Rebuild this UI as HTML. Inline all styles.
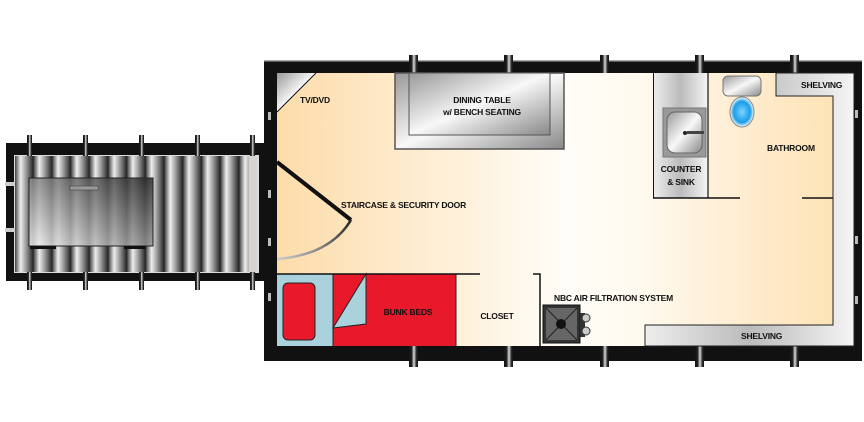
<!DOCTYPE html>
<html><head><meta charset="utf-8"><style>
html,body{margin:0;padding:0;background:#fff;}
svg{display:block;}
text{font-family:"Liberation Sans",sans-serif;font-weight:bold;font-size:8.5px;fill:#111;letter-spacing:-0.2px;}
</style></head><body>
<svg width="864" height="422" viewBox="0 0 864 422" xmlns="http://www.w3.org/2000/svg">
<defs>
<linearGradient id="slat" x1="0" x2="1" y1="0" y2="0">
<stop offset="0" stop-color="#444"/><stop offset="0.3" stop-color="#eee"/><stop offset="0.6" stop-color="#999"/><stop offset="1" stop-color="#1e1e1e"/>
</linearGradient>
<pattern id="slats" x="15" y="0" width="18.7" height="10" patternUnits="userSpaceOnUse">
<rect width="18.7" height="10" fill="url(#slat)"/>
</pattern>
<linearGradient id="box" x1="0" y1="1" x2="1" y2="0">
<stop offset="0" stop-color="#f0f0f0" stop-opacity="0.85"/><stop offset="1" stop-color="#2a2a2a" stop-opacity="0.85"/>
</linearGradient>
<linearGradient id="floor" x1="0" x2="1" y1="0" y2="0">
<stop offset="0" stop-color="#fddcaa"/><stop offset="0.5" stop-color="#fffdf8"/><stop offset="0.62" stop-color="#fffaf0"/><stop offset="1" stop-color="#fde0b0"/>
</linearGradient>
<linearGradient id="metal" x1="0" y1="0" x2="1" y2="1">
<stop offset="0" stop-color="#999"/><stop offset="0.5" stop-color="#f8f8f8"/><stop offset="1" stop-color="#888"/>
</linearGradient>
<linearGradient id="metalv" x1="0" y1="0" x2="1" y2="0">
<stop offset="0" stop-color="#eee"/><stop offset="0.5" stop-color="#bbb"/><stop offset="1" stop-color="#f5f5f5"/>
</linearGradient>
<linearGradient id="post" x1="0" x2="1">
<stop offset="0" stop-color="#111"/><stop offset="0.3" stop-color="#222"/><stop offset="0.55" stop-color="#ddd"/><stop offset="0.8" stop-color="#333"/><stop offset="1" stop-color="#111"/>
</linearGradient>
<linearGradient id="arc" x1="0" x2="1" y1="1" y2="0">
<stop offset="0" stop-color="#ccc"/><stop offset="1" stop-color="#222"/>
</linearGradient>
<radialGradient id="bowl"><stop offset="0" stop-color="#7fd3ff"/><stop offset="0.7" stop-color="#1a9ee8"/><stop offset="1" stop-color="#fff"/></radialGradient>
</defs>

<!-- trailer -->
<g>
<rect x="6" y="143" width="258" height="138" fill="#111"/>
<rect x="14" y="155" width="245" height="118" fill="#ddd"/>
<rect x="15" y="156" width="234" height="116" fill="url(#slats)"/>
<rect x="249" y="156" width="9" height="116" fill="#d8d4d0"/>
<rect x="5" y="182" width="10" height="4" fill="#ccc"/><rect x="5" y="228" width="10" height="4" fill="#ccc"/>
<rect x="29" y="178" width="124" height="68" fill="url(#box)" stroke="#222" stroke-width="1"/>
<rect x="70" y="186" width="28" height="4" fill="#999" stroke="#444" stroke-width="0.6"/>
<rect x="30" y="246" width="26" height="3" fill="#111"/><rect x="124" y="246" width="22" height="3" fill="#111"/>
<g fill="url(#post)">
<rect x="27" y="135" width="5" height="21"/><rect x="83" y="135" width="5" height="21"/><rect x="139" y="135" width="5" height="21"/><rect x="195" y="135" width="5" height="21"/><rect x="250" y="135" width="5" height="21"/>
<rect x="27" y="272" width="5" height="18"/><rect x="83" y="272" width="5" height="18"/><rect x="139" y="272" width="5" height="18"/><rect x="195" y="272" width="5" height="18"/><rect x="250" y="272" width="5" height="18"/>
</g>
</g>

<rect x="264" y="61" width="598" height="300" fill="#111"/>
<rect x="264" y="60" width="598" height="1.5" fill="#aaa"/>
<g fill="url(#post)">
<rect x="409" y="55" width="9" height="18"/><rect x="504" y="55" width="9" height="18"/><rect x="600" y="55" width="9" height="18"/><rect x="695" y="55" width="9" height="18"/><rect x="790" y="55" width="9" height="18"/>
<rect x="409" y="346" width="9" height="21"/><rect x="504" y="346" width="9" height="21"/><rect x="600" y="346" width="9" height="21"/><rect x="695" y="346" width="9" height="21"/><rect x="790" y="346" width="9" height="21"/>
</g>
<g fill="#bbb"><rect x="268" y="112" width="3" height="8"/><rect x="268" y="190" width="3" height="8"/><rect x="268" y="238" width="3" height="8"/><rect x="268" y="293" width="3" height="8"/><rect x="855" y="110" width="3" height="8"/><rect x="855" y="236" width="3" height="8"/><rect x="855" y="296" width="3" height="8"/></g>
<rect x="277" y="73" width="577" height="273" fill="url(#floor)"/>

<!-- TV corner -->
<polygon points="277,73 316,73 277,112" fill="url(#metal)"/>
<line x1="316" y1="73" x2="277" y2="112" stroke="#111" stroke-width="1"/>
<text x="300" y="103">TV/DVD</text>

<!-- dining -->
<rect x="395" y="73" width="169" height="76" fill="url(#metal)" stroke="#555" stroke-width="1.5"/>
<rect x="409" y="73" width="141" height="62" fill="url(#metal)" stroke="#555" stroke-width="1"/>
<text x="482" y="103" text-anchor="middle">DINING TABLE</text>
<text x="482" y="115" text-anchor="middle">w/ BENCH SEATING</text>

<!-- door -->
<line x1="277" y1="162" x2="351" y2="220" stroke="#111" stroke-width="4"/>
<path d="M351,220 Q330,255 277,259" fill="none" stroke="url(#arc)" stroke-width="2.5"/>
<text x="341" y="208">STAIRCASE &amp; SECURITY DOOR</text>

<!-- bunk -->
<rect x="277" y="274" width="56" height="72" fill="#a9d2dc"/>
<rect x="283" y="283" width="32" height="57" rx="5" fill="#e8192a" stroke="#222" stroke-width="1"/>
<rect x="333" y="274" width="123" height="72" fill="#e8192a"/>
<polygon points="366,274 333,328 366,324" fill="#a9d2dc" stroke="#222" stroke-width="1"/>
<line x1="333" y1="274" x2="333" y2="346" stroke="#222" stroke-width="1"/>
<line x1="456" y1="274" x2="456" y2="346" stroke="#222" stroke-width="1"/>
<line x1="277" y1="274" x2="480" y2="274" stroke="#111" stroke-width="1.5"/>
<text x="408" y="315" text-anchor="middle">BUNK BEDS</text>
<polyline points="533,274 540,274 540,346" fill="none" stroke="#111" stroke-width="1.5"/>
<text x="497" y="319" text-anchor="middle">CLOSET</text>

<!-- NBC -->
<rect x="543" y="305" width="37" height="38" fill="#333" stroke="#111"/>
<rect x="546" y="308" width="31" height="32" fill="#666"/>
<line x1="546" y1="308" x2="577" y2="340" stroke="#222"/><line x1="577" y1="308" x2="546" y2="340" stroke="#222"/>
<circle cx="561" cy="324" r="5" fill="#111"/>
<rect x="580" y="313" width="5" height="24" fill="#333"/>
<circle cx="586" cy="318" r="4" fill="#ccc" stroke="#333"/><circle cx="586" cy="331" r="4" fill="#ccc" stroke="#333"/>
<text x="554" y="301">NBC AIR FILTRATION SYSTEM</text>

<!-- counter -->
<rect x="653" y="73" width="55" height="125" fill="url(#metalv)"/>
<line x1="653.5" y1="73" x2="653.5" y2="198" stroke="#111" stroke-width="1"/>
<line x1="708" y1="73" x2="708" y2="198" stroke="#111" stroke-width="1.2"/>
<line x1="653" y1="198" x2="740" y2="198" stroke="#111" stroke-width="1.5"/>
<line x1="802" y1="198" x2="853" y2="198" stroke="#111" stroke-width="1.5"/>
<rect x="663" y="108" width="43" height="49" fill="#999" stroke="#777"/>
<rect x="667" y="112" width="35" height="41" rx="8" fill="url(#metal)" stroke="#666"/>
<circle cx="685" cy="133" r="2" fill="#222"/><rect x="687" y="131" width="17" height="3" fill="#444"/>
<text x="681" y="172" text-anchor="middle">COUNTER</text>
<text x="681" y="185" text-anchor="middle">&amp; SINK</text>

<!-- toilet -->
<rect x="723" y="76" width="38" height="20" rx="5" fill="url(#metal)" stroke="#777"/>
<ellipse cx="742" cy="112" rx="12" ry="15" fill="url(#bowl)" stroke="#888"/>
<text x="767" y="151">BATHROOM</text>

<!-- shelving -->
<path d="M776,73 L854,73 L854,346 L645,346 L645,325 L833,325 L833,96 L776,96 Z" fill="url(#metalv)" stroke="#222" stroke-width="1"/>
<text x="801" y="88">SHELVING</text>
<text x="741" y="339">SHELVING</text>
</svg>
</body></html>
